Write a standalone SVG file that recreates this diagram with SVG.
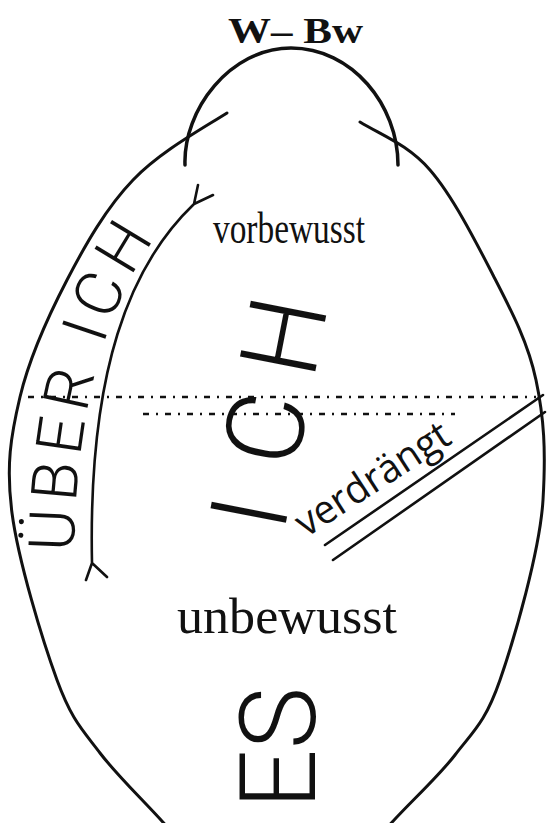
<svg xmlns="http://www.w3.org/2000/svg" width="553" height="823" viewBox="0 0 553 823">
<style>
.ln{fill:none;stroke:#111;stroke-linecap:round;stroke-linejoin:round}
.big{font-family:Roboto,"DejaVu Sans",sans-serif;font-weight:300;fill:#111}
.ser{font-family:"Liberation Serif",serif;fill:#111}
.dot{fill:none;stroke:#111;stroke-width:2.6;stroke-dasharray:6 7 2 7}
</style>
<rect width="553" height="823" fill="#fff"/>
<g id="egg">
<path class="ln" stroke-width="3" d="M227,113 C199.2,130.5 159.7,152.2 133,180 C106.3,207.8 85.8,243.8 67,280 C48.2,316.2 29.2,358.2 20,397 C10.8,435.8 5.8,465.8 12,513 C18.2,560.2 42.3,640 57,680 C71.7,720 82,729.2 100,753 C118,776.8 146.7,803.5 170,830"/>
<path class="ln" stroke-width="3" d="M360,122 C381.7,135.3 407.8,144.5 430,170 C452.2,195.5 475,240 493,275 C511,310 528,342 536,380 C544,418 546,450 543,500 C540,550 514.7,637.5 500,680 C485.3,722.5 473.3,731.2 455,755 C436.7,778.8 408,803.8 385,830"/>
</g>
<g id="wbw">
<path class="ln" stroke-width="3.5" d="M185,165 C183,110 230,48 291,48 C352,48 398,105 398,165"/>
<text class="ser" x="228" y="43" font-size="36" font-weight="bold" textLength="135" lengthAdjust="spacingAndGlyphs">W– Bw</text>
</g>
<g id="ueberich">
<path class="ln" stroke-width="2.6" d="M194,204 C130,265 88,370 92,563 M194,204 L198,185 M194,204 L213,195 M92,563 L86,580 M92,563 L107,577"/>
<path id="uip" fill="none" d="M74,600 C70,390 115,275 188,198"/>
<text class="big" font-size="64"><textPath href="#uip" startOffset="48" textLength="328" lengthAdjust="spacing">ÜBER ICH</textPath></text>
</g>
<g id="connectors">
<line class="dot" x1="28" y1="397" x2="536" y2="397"/>
<line class="dot" x1="143" y1="414" x2="455" y2="414"/>
</g>
<g id="verdraengt">
<line class="ln" stroke-width="2.6" x1="325" y1="545" x2="543" y2="395"/>
<line class="ln" stroke-width="2.6" x1="333" y1="560" x2="545" y2="412"/>
<text font-family="'Open Sans','DejaVu Sans',sans-serif" font-size="40" fill="#111" transform="translate(306,538) rotate(-33)" textLength="176" lengthAdjust="spacingAndGlyphs">verdrängt</text>
</g>
<g id="ich">
<text class="big" font-size="108" transform="translate(285,527) rotate(-79)"><tspan x="-7">I</tspan><tspan x="58">C</tspan><tspan x="149">H</tspan></text>
</g>
<g id="vorbewusst">
<text class="ser" x="213" y="243" font-size="44" textLength="152" lengthAdjust="spacingAndGlyphs">vorbewusst</text>
</g>
<g id="unbewusst">
<text class="ser" x="177" y="633" font-size="50" textLength="220" lengthAdjust="spacingAndGlyphs">unbewusst</text>
</g>
<g id="es">
<text class="big" font-size="105" transform="translate(315,809) rotate(-90)">ES</text>
</g>
</svg>
